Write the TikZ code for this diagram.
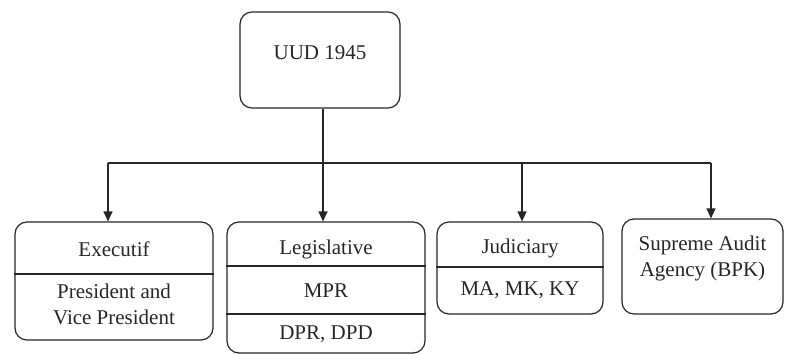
\documentclass[tikz,border=0pt]{standalone}
\usepackage{fontspec}
\setmainfont{Liberation Serif}
\usetikzlibrary{arrows.meta}

\begin{document}
\begin{tikzpicture}[x=1pt,y=-1pt,line width=1.2pt,
  box/.style={draw=black!85,rounded corners=12pt,inner sep=0pt},
  txt/.style={text=black!85,inner sep=0pt,align=center,font=\fontsize{21}{26}\selectfont},
  arr/.style={-{Triangle[width=9pt,length=10pt]},draw=black!85}]
\useasboundingbox (0,0) rectangle (785,354);

\node[box,minimum width=160,minimum height=96] (U) at (320,60) {};
\node[txt] (Ut) at (320,53) {UUD 1945};

\node[box,minimum width=198,minimum height=118] (E) at (114,281) {};
\node[txt] (Et) at (114,249) {Executif};
\node[txt] (Ep) at (114,304) {President and\\Vice President};

\node[box,minimum width=198,minimum height=131] (L) at (326,287.5) {};
\node[txt] (Lt) at (326,249) {Legislative};
\node[txt] (Lm) at (326,291) {MPR};
\node[txt] (Ld) at (326,334) {DPR, DPD};

\node[box,minimum width=166,minimum height=92] (J) at (520,268) {};
\node[txt] (Jt) at (520,248) {Judiciary};
\node[txt] (Jm) at (520,290) {MA, MK, KY};

\node[box,minimum width=161,minimum height=95] (B) at (702.5,266.5) {};
\node[txt] (Bt) at (702.5,258) {Supreme Audit\\Agency (BPK)};

% dividers
\draw[black!85] (E.west |- 0,274) -- (E.east |- 0,274);
\draw[black!85] (L.west |- 0,266) -- (L.east |- 0,266);
\draw[black!85] (L.west |- 0,314) -- (L.east |- 0,314);
\draw[black!85] (J.west |- 0,267) -- (J.east |- 0,267);

% bus
\coordinate (b1) at (108,163);
\coordinate (b2) at (323,163);
\coordinate (b3) at (522,163);
\coordinate (b4) at (711,163);

\draw[black!85] (b1) -- (b4);
\draw[arr] (U.south -| b2) -- (b2 |- L.north);
\draw[arr] (b1) -- (b1 |- E.north);
\draw[arr] (b3) -- (b3 |- J.north);
\draw[arr] (b4) -- (b4 |- B.north);
\end{tikzpicture}
\end{document}
